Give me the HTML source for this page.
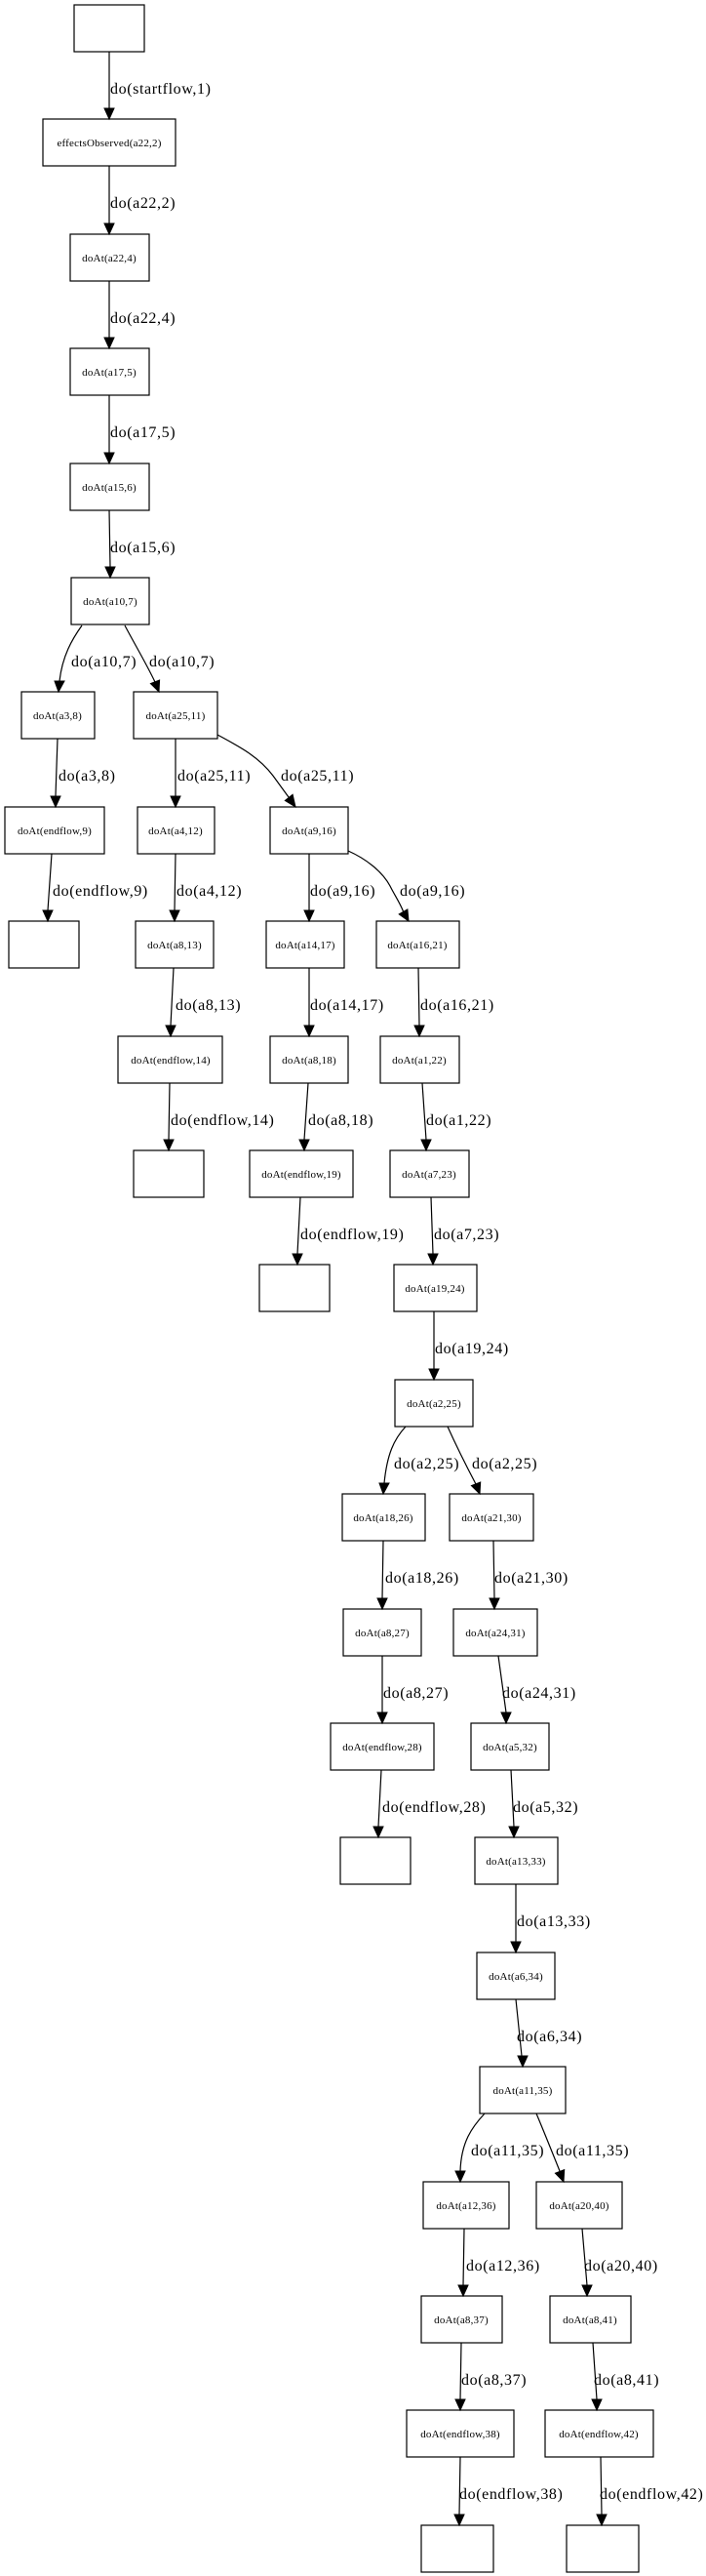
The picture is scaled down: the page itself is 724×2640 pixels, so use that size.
<!DOCTYPE html>
<html><head><meta charset="utf-8"><style>
html,body{margin:0;padding:0;background:#fff;}
svg{display:block}
.n{fill:#fff;stroke:#000;stroke-width:1.2}
.t{font-family:"Liberation Serif",serif;font-size:11px;text-anchor:middle;letter-spacing:0.2px}
.l{font-family:"Liberation Serif",serif;font-size:16px;letter-spacing:0.6px}
.e{fill:none;stroke:#000;stroke-width:1.2}
.a{fill:#000;stroke:#000;stroke-width:1}
</style></head><body>
<svg width="724" height="2640" viewBox="0 0 724 2640" xmlns="http://www.w3.org/2000/svg">
<!-- nodes -->
<rect class="n" x="76" y="5" width="72" height="48"/>
<rect class="n" x="44" y="122" width="136" height="48"/><text class="t" x="112" y="150">effectsObserved(a22,2)</text>
<rect class="n" x="72" y="240" width="81" height="48"/><text class="t" x="112" y="268">doAt(a22,4)</text>
<rect class="n" x="72" y="357" width="81" height="48"/><text class="t" x="112" y="385">doAt(a17,5)</text>
<rect class="n" x="72" y="475" width="81" height="48"/><text class="t" x="112" y="503">doAt(a15,6)</text>
<rect class="n" x="73" y="592" width="80" height="48"/><text class="t" x="113" y="620">doAt(a10,7)</text>
<rect class="n" x="22" y="709" width="75" height="48"/><text class="t" x="59" y="737">doAt(a3,8)</text>
<rect class="n" x="137" y="709" width="86" height="48"/><text class="t" x="180" y="737">doAt(a25,11)</text>
<rect class="n" x="5" y="827" width="102" height="48"/><text class="t" x="56" y="855">doAt(endflow,9)</text>
<rect class="n" x="141" y="827" width="79" height="48"/><text class="t" x="180" y="855">doAt(a4,12)</text>
<rect class="n" x="277" y="827" width="80" height="48"/><text class="t" x="317" y="855">doAt(a9,16)</text>
<rect class="n" x="9" y="944" width="72" height="48"/>
<rect class="n" x="139" y="944" width="80" height="48"/><text class="t" x="179" y="972">doAt(a8,13)</text>
<rect class="n" x="273" y="944" width="80" height="48"/><text class="t" x="313" y="972">doAt(a14,17)</text>
<rect class="n" x="386" y="944" width="85" height="48"/><text class="t" x="428" y="972">doAt(a16,21)</text>
<rect class="n" x="121" y="1062" width="107" height="48"/><text class="t" x="175" y="1090">doAt(endflow,14)</text>
<rect class="n" x="277" y="1062" width="80" height="48"/><text class="t" x="317" y="1090">doAt(a8,18)</text>
<rect class="n" x="390" y="1062" width="81" height="48"/><text class="t" x="430" y="1090">doAt(a1,22)</text>
<rect class="n" x="137" y="1179" width="72" height="48"/>
<rect class="n" x="256" y="1179" width="106" height="48"/><text class="t" x="309" y="1207">doAt(endflow,19)</text>
<rect class="n" x="400" y="1179" width="81" height="48"/><text class="t" x="440" y="1207">doAt(a7,23)</text>
<rect class="n" x="266" y="1296" width="72" height="48"/>
<rect class="n" x="404" y="1296" width="85" height="48"/><text class="t" x="446" y="1324">doAt(a19,24)</text>
<rect class="n" x="405" y="1414" width="80" height="48"/><text class="t" x="445" y="1442">doAt(a2,25)</text>
<rect class="n" x="351" y="1531" width="85" height="48"/><text class="t" x="393" y="1559">doAt(a18,26)</text>
<rect class="n" x="461" y="1531" width="86" height="48"/><text class="t" x="504" y="1559">doAt(a21,30)</text>
<rect class="n" x="352" y="1649" width="80" height="48"/><text class="t" x="392" y="1677">doAt(a8,27)</text>
<rect class="n" x="465" y="1649" width="86" height="48"/><text class="t" x="508" y="1677">doAt(a24,31)</text>
<rect class="n" x="339" y="1766" width="106" height="48"/><text class="t" x="392" y="1794">doAt(endflow,28)</text>
<rect class="n" x="483" y="1766" width="80" height="48"/><text class="t" x="523" y="1794">doAt(a5,32)</text>
<rect class="n" x="349" y="1883" width="72" height="48"/>
<rect class="n" x="487" y="1883" width="85" height="48"/><text class="t" x="529" y="1911">doAt(a13,33)</text>
<rect class="n" x="489" y="2001" width="80" height="48"/><text class="t" x="529" y="2029">doAt(a6,34)</text>
<rect class="n" x="492" y="2118" width="88" height="48"/><text class="t" x="536" y="2146">doAt(a11,35)</text>
<rect class="n" x="434" y="2236" width="88" height="48"/><text class="t" x="478" y="2264">doAt(a12,36)</text>
<rect class="n" x="550" y="2236" width="88" height="48"/><text class="t" x="594" y="2264">doAt(a20,40)</text>
<rect class="n" x="432" y="2353" width="83" height="48"/><text class="t" x="473" y="2381">doAt(a8,37)</text>
<rect class="n" x="564" y="2353" width="83" height="48"/><text class="t" x="605" y="2381">doAt(a8,41)</text>
<rect class="n" x="417" y="2470" width="110" height="48"/><text class="t" x="472" y="2498">doAt(endflow,38)</text>
<rect class="n" x="559" y="2470" width="111" height="48"/><text class="t" x="614" y="2498">doAt(endflow,42)</text>
<rect class="n" x="432" y="2588" width="74" height="48"/>
<rect class="n" x="581" y="2588" width="74" height="48"/>

<!-- straight edges -->
<path class="e" d="M112,53 L112,111 M112,170 L112,229 M112,288 L112,346 M112,405 L112,464 M112,523 L113,581
M59,757 L57,816 M180,757 L180,816 M53,875 L49,933 M180,875 L179,933 M317,875 L317,933
M178,992 L175,1051 M317,992 L317,1051 M429,992 L430,1051
M174,1110 L173,1168 M316,1110 L312,1168 M433,1110 L437,1168
M308,1227 L305,1285 M442,1227 L444,1285 M445,1344 L445,1403
M393,1579 L392,1638 M506,1579 L507,1638 M392,1697 L392,1755 M511,1697 L519,1755
M391,1814 L388,1872 M524,1814 L527,1872 M529,1931 L529,1990 M529,2049 L535,2107
M476,2284 L475,2342 M597,2284 L602,2342 M473,2401 L472,2459 M608,2401 L612,2459
M472,2518 L471,2577 M616,2518 L617,2577"/>
<!-- curved edges -->
<path class="e" d="M84,641 C74,655 64,672 61,698"/>
<path class="e" d="M128,641 C138,660 150,680 159,699"/>
<path class="e" d="M223,753 C245,765 265,775 280,795 L296,817"/>
<path class="e" d="M357,872 C375,880 392,893 400,908 C405,918 410,925 413.5,934"/>
<path class="e" d="M416,1462 C404,1475 397,1490 394,1520"/>
<path class="e" d="M459,1462 C468,1482 478,1502 488,1521"/>
<path class="e" d="M497,2166 C484,2180 473,2195 472,2225"/>
<path class="e" d="M550,2166 C558,2185 566,2205 574,2225"/>

<!-- arrowheads -->
<g class="a">
<polygon points="112,122 107,111 117,111"/>
<polygon points="112,240 107,229 117,229"/>
<polygon points="112,357 107,346 117,346"/>
<polygon points="112,475 107,464 117,464"/>
<polygon points="113,592 108,581 118,581"/>
<polygon points="60,709 56,698 66,698"/>
<polygon points="163,709 154.4,700.6 163.6,697"/>
<polygon points="57,827 52,816 62,816"/>
<polygon points="180,827 175,816 185,816"/>
<polygon points="303,827 292.3,820.5 300.1,814.3"/>
<polygon points="49,944 44,933 54,933"/>
<polygon points="179,944 174,933 184,933"/>
<polygon points="317,944 312,933 322,933"/>
<polygon points="419,944 409.2,936.9 417.9,931.9"/>
<polygon points="175,1062 170,1051 180,1051"/>
<polygon points="317,1062 312,1051 322,1051"/>
<polygon points="430,1062 425,1051 435,1051"/>
<polygon points="173,1179 168,1168 178,1168"/>
<polygon points="312,1179 307,1168 317,1168"/>
<polygon points="437,1179 432,1168 442,1168"/>
<polygon points="305,1296 300,1285 310,1285"/>
<polygon points="444,1296 439,1285 449,1285"/>
<polygon points="445,1414 440,1403 450,1403"/>
<polygon points="393,1531 389,1520 399,1520"/>
<polygon points="492,1531 483.4,1522.6 492.7,1519"/>
<polygon points="392,1649 387,1638 397,1638"/>
<polygon points="507,1649 502,1638 512,1638"/>
<polygon points="392,1766 387,1755 397,1755"/>
<polygon points="519,1766 514,1755 524,1755"/>
<polygon points="388,1883 383,1872 393,1872"/>
<polygon points="527,1883 522,1872 532,1872"/>
<polygon points="529,2001 524,1990 534,1990"/>
<polygon points="536,2118 531,2107 541,2107"/>
<polygon points="472,2236 467,2225 477,2225"/>
<polygon points="578,2236 569.4,2227.2 578.7,2223.6"/>
<polygon points="475,2353 470,2342 480,2342"/>
<polygon points="602,2353 597,2342 607,2342"/>
<polygon points="472,2470 467,2459 477,2459"/>
<polygon points="612,2470 607,2459 617,2459"/>
<polygon points="471,2588 466,2577 476,2577"/>
<polygon points="617,2588 612,2577 622,2577"/>
</g>

<!-- edge labels -->
<g class="l">
<text x="113" y="96">do(startflow,1)</text>
<text x="113" y="213">do(a22,2)</text>
<text x="113" y="331">do(a22,4)</text>
<text x="113" y="448">do(a17,5)</text>
<text x="113" y="566">do(a15,6)</text>
<text x="73" y="683">do(a10,7)</text>
<text x="153" y="683">do(a10,7)</text>
<text x="60" y="800">do(a3,8)</text>
<text x="182" y="800">do(a25,11)</text>
<text x="288" y="800">do(a25,11)</text>
<text x="54" y="918">do(endflow,9)</text>
<text x="181" y="918">do(a4,12)</text>
<text x="318" y="918">do(a9,16)</text>
<text x="410" y="918">do(a9,16)</text>
<text x="180" y="1035">do(a8,13)</text>
<text x="318" y="1035">do(a14,17)</text>
<text x="431" y="1035">do(a16,21)</text>
<text x="175" y="1153">do(endflow,14)</text>
<text x="316" y="1153">do(a8,18)</text>
<text x="437" y="1153">do(a1,22)</text>
<text x="308" y="1270">do(endflow,19)</text>
<text x="445" y="1270">do(a7,23)</text>
<text x="446" y="1387">do(a19,24)</text>
<text x="404" y="1505">do(a2,25)</text>
<text x="484" y="1505">do(a2,25)</text>
<text x="395" y="1622">do(a18,26)</text>
<text x="507" y="1622">do(a21,30)</text>
<text x="393" y="1740">do(a8,27)</text>
<text x="515" y="1740">do(a24,31)</text>
<text x="392" y="1857">do(endflow,28)</text>
<text x="526" y="1857">do(a5,32)</text>
<text x="530" y="1974">do(a13,33)</text>
<text x="530" y="2092">do(a6,34)</text>
<text x="483" y="2209">do(a11,35)</text>
<text x="570" y="2209">do(a11,35)</text>
<text x="478" y="2327">do(a12,36)</text>
<text x="599" y="2327">do(a20,40)</text>
<text x="473" y="2444">do(a8,37)</text>
<text x="609" y="2444">do(a8,41)</text>
<text x="471" y="2561">do(endflow,38)</text>
<text x="615" y="2561">do(endflow,42)</text>
</g>
</svg>
</body></html>
